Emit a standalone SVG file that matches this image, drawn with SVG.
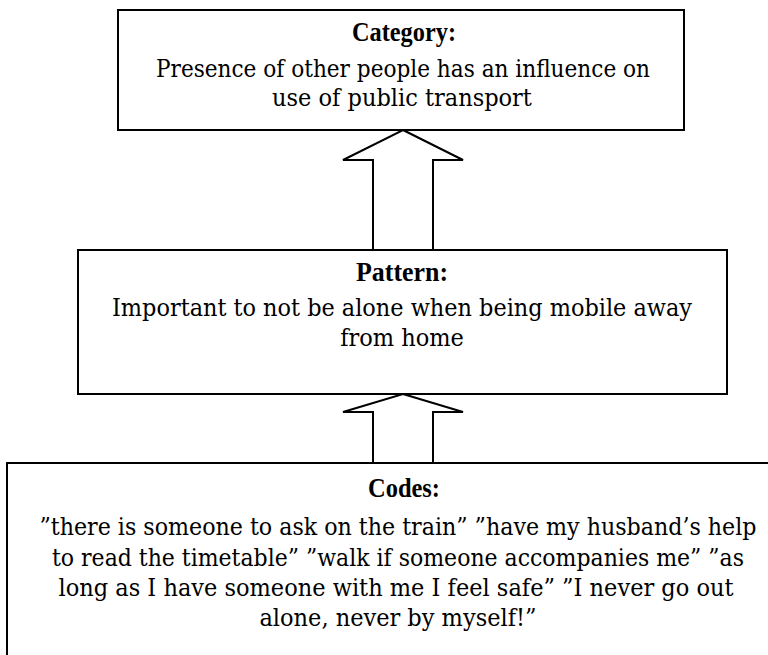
<svg xmlns="http://www.w3.org/2000/svg" width="768" height="655" viewBox="0 0 768 655">
<style>
.box{fill:#fff;stroke:#000;stroke-width:2}
.arr{fill:#fff;stroke:#000;stroke-width:2;stroke-linejoin:miter}
text{font-family:'DejaVu Serif','Liberation Serif',serif;font-stretch:condensed;font-size:25px;fill:#000;text-anchor:middle}
.h{font-family:'Liberation Serif','DejaVu Serif',serif;font-stretch:normal;font-weight:bold;font-size:27px}
</style>
<rect width="768" height="655" fill="#fff"/>
<g id="category">
<rect class="box" x="118" y="10" width="566" height="120"/>
<text class="h" x="404" y="41" textLength="104" lengthAdjust="spacingAndGlyphs">Category:</text>
<text x="403" y="77" textLength="494" lengthAdjust="spacingAndGlyphs">Presence of other people has an influence on</text>
<text x="402" y="106">use of public transport</text>
</g>
<g id="pattern">
<rect class="box" x="78" y="250" width="649" height="144"/>
<text class="h" x="402" y="281" textLength="92" lengthAdjust="spacingAndGlyphs">Pattern:</text>
<text x="402" y="316" textLength="580" lengthAdjust="spacingAndGlyphs">Important to not be alone when being mobile away</text>
<text x="402" y="346">from home</text>
</g>
<g id="codes">
<rect class="box" x="7" y="463" width="800" height="250"/>
<text class="h" x="404" y="497" textLength="72" lengthAdjust="spacingAndGlyphs">Codes:</text>
<text x="398" y="535" textLength="717" lengthAdjust="spacingAndGlyphs">”there is someone to ask on the train” ”have my husband’s help</text>
<text x="398" y="566" textLength="692" lengthAdjust="spacingAndGlyphs">to read the timetable” ”walk if someone accompanies me” ”as</text>
<text x="396" y="596" textLength="675" lengthAdjust="spacingAndGlyphs">long as I have someone with me I feel safe” ”I never go out</text>
<text x="398" y="626">alone, never by myself!”</text>
</g>
<g id="connectors">
<polygon class="arr" points="403,130 463,160 433,160 433,250 373,250 373,160 343,160"/>
<polygon class="arr" points="403,394 463,412 433,412 433,463 373,463 373,412 343,412"/>
</g>
</svg>
